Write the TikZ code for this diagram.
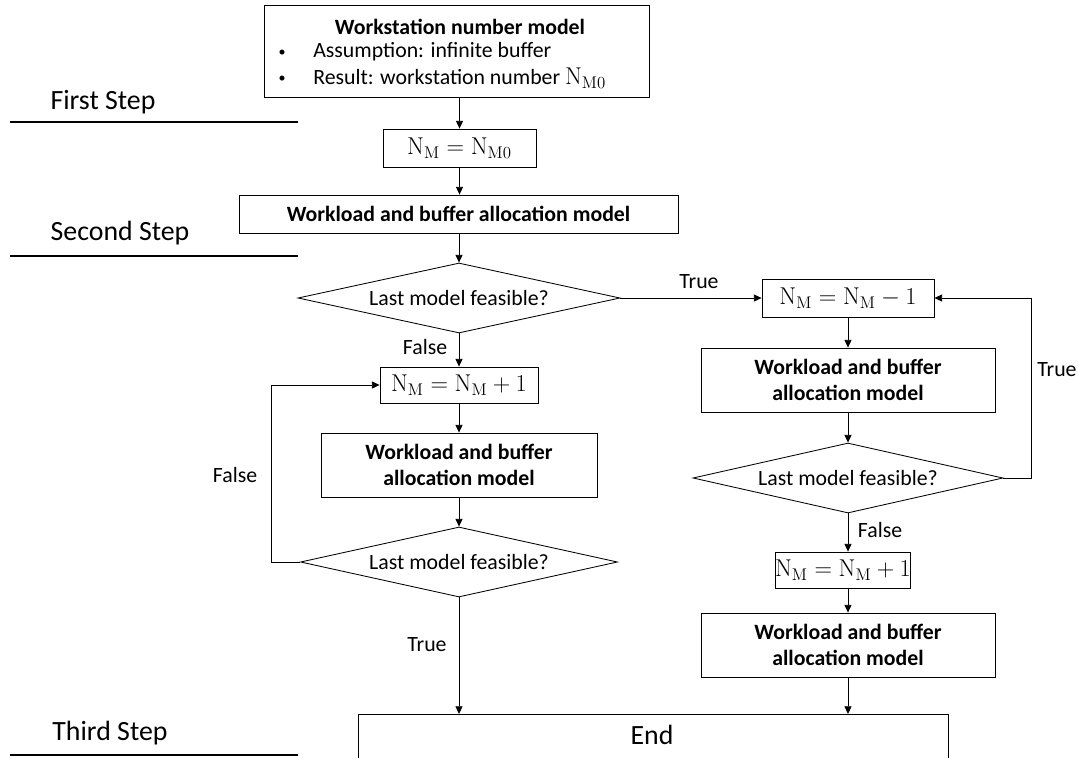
\documentclass[tikz,border=0pt]{standalone}
\usepackage[no-math]{fontspec}
\setmainfont{Carlito}
\usetikzlibrary{shapes.geometric,arrows.meta}
\newcommand\pu{0.025cm}
\newcommand\txtsize{\fontsize{15.5}{18.5}\selectfont}
\newcommand\stepsize{\fontsize{19.8}{24}\selectfont}
\newcommand\mathsize{\fontsize{17.28}{20}\selectfont}
\newcommand\NM{\mathrm{N}_{\mathrm{M}}}
\begin{document}
\begin{tikzpicture}[x=0.025cm,y=-0.025cm,
  font=\txtsize,
  box/.style={draw,line width=0.6pt,rectangle,inner sep=0pt,align=center},
  mbox/.style={box,font=\mathsize},
  wbox/.style={box,font=\txtsize\bfseries},
  dec/.style={draw,line width=0.6pt,diamond,aspect=4.6,inner sep=0pt},
  arr/.style={-{Triangle[length=5.5pt,width=5pt]},line width=0.6pt},
  lbl/.style={inner sep=0pt},
  bul/.style={inner sep=0pt,font=\fontsize{10}{10}\selectfont},
  stepline/.style={line width=1.7pt},
  steplbl/.style={font=\stepsize,inner sep=0pt}]
\useasboundingbox (0,0) rectangle (1078,757);
\clip (0,0) rectangle (1078,757);

% step labels
\node[steplbl] (s1) at (103,102) {First Step};
\coordinate (s1a) at (10,122); \coordinate (s1b) at (298,122);
\draw[stepline] (s1a) -- (s1b);
\node[steplbl] (s2) at (120,233) {Second Step};
\coordinate (s2a) at (10,256); \coordinate (s2b) at (298,256);
\draw[stepline] (s2a) -- (s2b);
\node[steplbl] (s3) at (110,733) {Third Step};
\coordinate (s3a) at (10,755); \coordinate (s3b) at (298,755);
\draw[stepline] (s3a) -- (s3b);

% top box
\node[box,minimum width={385*\pu},minimum height={92*\pu}] (top) at (456.5,51) {};
\node[lbl,font=\txtsize\bfseries] (t1) at (460,27) {Workstation number model};
\node[bul] (bu1) at (282,53) {•};
\node[lbl,anchor=west] (t2) at (313,52) {Assumption: infinite buffer};
\node[bul] (bu2) at (282,79) {•};
\node[lbl,anchor=west] (t3) at (313,78) {Result: workstation number {\mathsize$\mathrm{N}_{\mathrm{M0}}$}};

% center column
\node[mbox,minimum width={153*\pu},minimum height={38*\pu}] (nm0) at (459.5,148) {$\NM=\mathrm{N}_{\mathrm{M0}}$};
\node[wbox,minimum width={439*\pu},minimum height={38*\pu}] (wl1) at (458.5,214) {Workload and buffer allocation model};
\node[dec,minimum width={322*\pu},minimum height={70*\pu}] (d1) at (459,298) {Last model feasible?};

% left column
\node[mbox,minimum width={158*\pu},minimum height={36*\pu}] (nmL) at (459,385) {$\NM=\NM+1$};
\node[wbox,minimum width={276*\pu},minimum height={64*\pu}] (wl2) at (459,465) {Workload and buffer\\allocation model};
\node[dec,minimum width={317*\pu},minimum height={70*\pu}] (d3) at (459,562) {Last model feasible?};

% right column
\node[mbox,minimum width={172*\pu},minimum height={38*\pu}] (nmR1) at (848,298) {$\NM=\NM-1$};
\node[wbox,minimum width={294*\pu},minimum height={64*\pu}] (wl3) at (848,380) {Workload and buffer\\allocation model};
\node[dec,minimum width={310*\pu},minimum height={70*\pu}] (d2) at (848,478) {Last model feasible?};
\node[mbox,minimum width={134*\pu},minimum height={36*\pu}] (nmR2) at (843,570) {$\NM=\NM+1$};
\node[wbox,minimum width={294*\pu},minimum height={64*\pu}] (wl4) at (848,645) {Workload and buffer\\allocation model};

% end
\node[box,minimum width={590*\pu},minimum height={100*\pu},anchor=north] (end) at (653,714) {};
\node[lbl,font=\stepsize] (endt) at (652,735) {End};

% connectors
\draw[arr] (nm0.north |- top.south) -- (nm0.north);
\draw[arr] (nm0.south) -- (nm0.south |- wl1.north);
\draw[arr] (d1.north |- wl1.south) -- (d1.north);
\draw[arr] (d1.south) -- (d1.south |- nmL.north);
\draw[arr] (wl2.north |- nmL.south) -- (wl2.north);
\draw[arr] (wl2.south) -- (d3.north);
\draw[arr] (d3.west) -- ++(-29,0) |- (nmL.west);
\draw[arr] (d3.south) -- (d3.south |- end.north);
\draw[arr] (d1.east) -- (nmR1.west);
\draw[arr] (wl3.north |- nmR1.south) -- (wl3.north);
\draw[arr] (wl3.south) -- (d2.north);
\draw[arr] (d2.east) -- ++(28,0) |- (nmR1.east);
\draw[arr] (d2.south) -- (d2.south |- nmR2.north);
\draw[arr] (wl4.north |- nmR2.south) -- (wl4.north);
\draw[arr] (wl4.south) -- (wl4.south |- end.north);

% connector labels
\node[lbl] (lt1) at (699,282) {True};
\node[lbl] (lf1) at (425,347) {False};
\node[lbl] (lf2) at (235,475) {False};
\node[lbl] (lt2) at (1057,370) {True};
\node[lbl] (lf3) at (880,530) {False};
\node[lbl] (lt3) at (427,645) {True};
\end{tikzpicture}
\end{document}
